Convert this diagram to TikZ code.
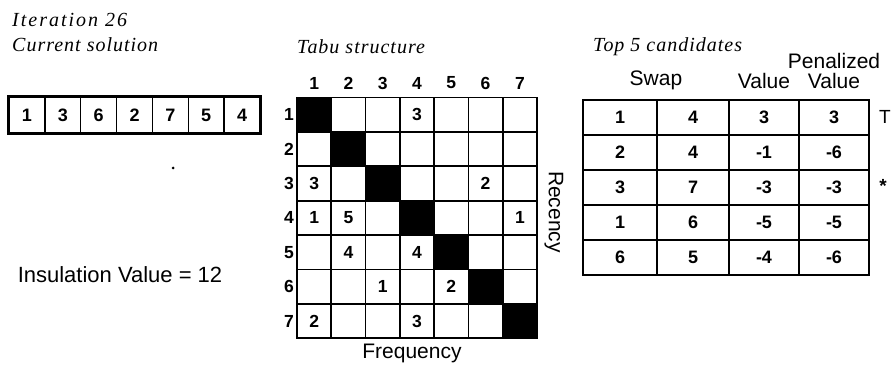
\documentclass[tikz,border=0pt]{standalone}
\usepackage{fontspec}
\setmainfont{Liberation Sans}
\newfontfamily\titlefont[LetterSpace=5.0]{Liberation Serif}
\newfontfamily\titlewidefont[LetterSpace=10.0]{Liberation Serif}
\begin{document}
\begin{tikzpicture}[x=1pt,y=-1pt,
  title/.style={font=\titlefont\itshape\fontsize{20}{24}\selectfont, anchor=west, inner sep=0},
  lab/.style={font=\fontsize{21}{25}\selectfont, inner sep=0},
  num/.style={font=\bfseries\fontsize{17.5}{20}\selectfont, inner sep=0},
  gcell/.style={draw, line width=1.8pt, minimum width=34.29pt, minimum height=34.4pt, inner sep=0},
  scell/.style={draw, line width=1.4pt, minimum width=35.86pt, minimum height=36pt, inner sep=0, font=\bfseries\fontsize{18}{20}\selectfont},
  tcell/.style={draw, line width=1.8pt, minimum height=35pt, inner sep=0, font=\bfseries\fontsize{18}{20}\selectfont},
  flag/.style={font=\fontsize{19}{22}\selectfont, inner sep=0}]
\useasboundingbox (0,0) rectangle (892,366);

% titles
\node[title, font=\titlewidefont\itshape\fontsize{20}{24}\selectfont] (it) at (12,20) {Iteration 26};
\node[title] (cs) at (12,45) {Current solution};
\node[title] (ts) at (297,47) {Tabu structure};
\node[title] (tc) at (593,47) {Top 5 candidates};

% current solution
\foreach \v [count=\i] in {1,3,6,2,7,5,4}
  \node[scell] (s\i) at ({9+35.86*(\i-0.5)},115) {\v};
\draw[line width=2.4pt] (s1.north west) rectangle (s7.south east);
\fill (173,168) circle (1.5pt);

\node[lab, font=\fontsize{22}{26}\selectfont] (ins) at (120,275) {Insulation Value = 12};

% tabu structure grid
\foreach \r in {1,...,7}{
  \foreach \c in {1,...,7}{
    \ifnum\r=\c
      \node[gcell, fill=black] (g\r\c) at ({297+34.29*(\c-0.5)},{97.5+34.4*(\r-0.5)}) {};
    \else
      \node[gcell] (g\r\c) at ({297+34.29*(\c-0.5)},{97.5+34.4*(\r-0.5)}) {};
    \fi
  }
}
\foreach \c in {1,...,7}
  \node[num] (col\c) at ({297+34.29*(\c-0.5)},83) {\c};
\foreach \r in {1,...,7}
  \node[num] (row\r) at (289,{97.5+34.4*(\r-0.5)}) {\r};

\foreach \cc/\v in {14/3, 31/3, 36/2, 41/1, 42/5, 47/1, 52/4, 54/4, 63/1, 65/2, 71/2, 74/3}
  \node[num] (v\cc) at (g\cc) {\v};

\node[lab] (freq) at (412,353) {Frequency};
\node[lab, rotate=-90] (rec) at (554,212) {Recency};

% candidates table
\node[lab] (hswap) at (656,80) {Swap};
\node[lab] (hval) at (764,81) {Value};
\node[lab] (hpen) at (834,61) {Penalized};
\node[lab] (hpval) at (834,81) {Value};

\foreach \a/\b/\v/\p [count=\i] in {1/4/3/3, 2/4/-1/-6, 3/7/-3/-3, 1/6/-5/-5, 6/5/-4/-6}{
  \node[tcell, minimum width=74pt] (t\i a) at (620,{100+35*(\i-0.5)}) {\a};
  \node[tcell, minimum width=72pt] (t\i b) at (693,{100+35*(\i-0.5)}) {\b};
  \node[tcell, minimum width=70pt] (t\i c) at (764,{100+35*(\i-0.5)}) {\v};
  \node[tcell, minimum width=70pt] (t\i d) at (834,{100+35*(\i-0.5)}) {\p};
}
\node[flag] (T) at (885,117) {T};
\node[flag, font=\bfseries\fontsize{19}{22}\selectfont] (star) at (883,186) {*};
\end{tikzpicture}
\end{document}
